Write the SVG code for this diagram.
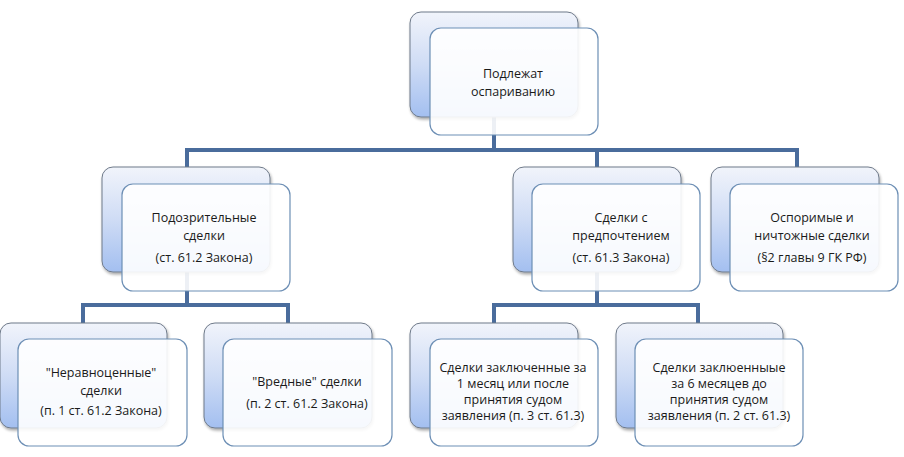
<svg xmlns="http://www.w3.org/2000/svg" width="904" height="457" viewBox="0 0 904 457">
<defs>
<linearGradient id="bg" x1="0" y1="0" x2="0" y2="1">
<stop offset="0" stop-color="#f1f4fb"/>
<stop offset="0.5" stop-color="#cfdcf5"/>
<stop offset="1" stop-color="#a3bff0"/>
</linearGradient>
<filter id="sh" x="-10%" y="-10%" width="125%" height="130%">
<feGaussianBlur in="SourceAlpha" stdDeviation="1.5"/>
<feOffset dx="1" dy="2" result="b"/>
<feComponentTransfer><feFuncA type="linear" slope="0.35"/></feComponentTransfer>
<feMerge><feMergeNode/><feMergeNode in="SourceGraphic"/></feMerge>
</filter>
</defs>
<style>
.back{fill:url(#bg);stroke:#6f7a8a;stroke-width:1;filter:url(#sh)}
.front{fill:#ffffff;fill-opacity:0.9;stroke:#6d8fb5;stroke-width:1.2}
.t{font-family:"Open Sans","Noto Sans",sans-serif;font-size:12.5px;fill:#1a1a1a;text-anchor:middle}
.c{fill:none;stroke:#4a6c9c;stroke-width:4;stroke-linecap:square}
</style>
<rect width="904" height="457" fill="#ffffff"/>
<g id="connectors">
<path class="c" d="M494,117 V150 M187,150 H797 M187,150 V167 M597,150 V167 M797,150 V167"/>
<path class="c" d="M187,272 V305 M83,305 H288 M83,305 V323 M288,305 V323"/>
<path class="c" d="M597,272 V305 M494,305 H698 M494,305 V323 M698,305 V323"/>
</g>
<g id="node-top">
<rect class="back" x="410" y="12" width="168" height="105" rx="11"/>
<rect class="front" x="430" y="28" width="168" height="107" rx="11"/>
<text class="t" x="513" y="78">Подлежат</text>
<text class="t" x="513" y="96">оспариванию</text>
</g>
<g id="node-susp">
<rect class="back" x="102" y="167" width="168" height="105" rx="11"/>
<rect class="front" x="122" y="184" width="168" height="107" rx="11"/>
<text class="t" x="204" y="222">Подозрительные</text>
<text class="t" x="204" y="240">сделки</text>
<text class="t" x="204" y="262">(ст. 61.2 Закона)</text>
</g>
<g id="node-pref">
<rect class="back" x="513" y="167" width="168" height="105" rx="11"/>
<rect class="front" x="532" y="184" width="168" height="107" rx="11"/>
<text class="t" x="621" y="222">Сделки с</text>
<text class="t" x="621" y="240">предпочтением</text>
<text class="t" x="621" y="262">(ст. 61.3 Закона)</text>
</g>
<g id="node-void">
<rect class="back" x="711" y="167" width="168" height="105" rx="11"/>
<rect class="front" x="730" y="184" width="168" height="107" rx="11"/>
<text class="t" x="812" y="222">Оспоримые и</text>
<text class="t" x="812" y="240">ничтожные сделки</text>
<text class="t" x="812" y="262">(§2 главы 9 ГК РФ)</text>
</g>
<g id="node-unequal">
<rect class="back" x="0" y="323" width="167" height="105" rx="11"/>
<rect class="front" x="18" y="339" width="169" height="107" rx="11"/>
<text class="t" x="101" y="377">"Неравноценные"</text>
<text class="t" x="101" y="395">сделки</text>
<text class="t" x="101" y="415">(п. 1 ст. 61.2 Закона)</text>
</g>
<g id="node-harmful">
<rect class="back" x="204" y="323" width="168" height="105" rx="11"/>
<rect class="front" x="223" y="339" width="169" height="107" rx="11"/>
<text class="t" x="307" y="386">"Вредные" сделки</text>
<text class="t" x="307" y="408">(п. 2 ст. 61.2 Закона)</text>
</g>
<g id="node-1month">
<rect class="back" x="410" y="323" width="168" height="105" rx="11"/>
<rect class="front" x="430" y="339" width="168" height="107" rx="11"/>
<text class="t" x="513" y="372">Сделки заключенные за</text>
<text class="t" x="513" y="388">1 месяц или после</text>
<text class="t" x="513" y="404">принятия судом</text>
<text class="t" x="513" y="420">заявления (п. 3 ст. 61.3)</text>
</g>
<g id="node-6months">
<rect class="back" x="616" y="323" width="167" height="105" rx="11"/>
<rect class="front" x="635" y="339" width="168" height="107" rx="11"/>
<text class="t" x="719" y="372">Сделки заклюенныые</text>
<text class="t" x="719" y="388">за 6 месяцев до</text>
<text class="t" x="719" y="404">принятия судом</text>
<text class="t" x="719" y="420">заявления (п. 2 ст. 61.3)</text>
</g>
</svg>
